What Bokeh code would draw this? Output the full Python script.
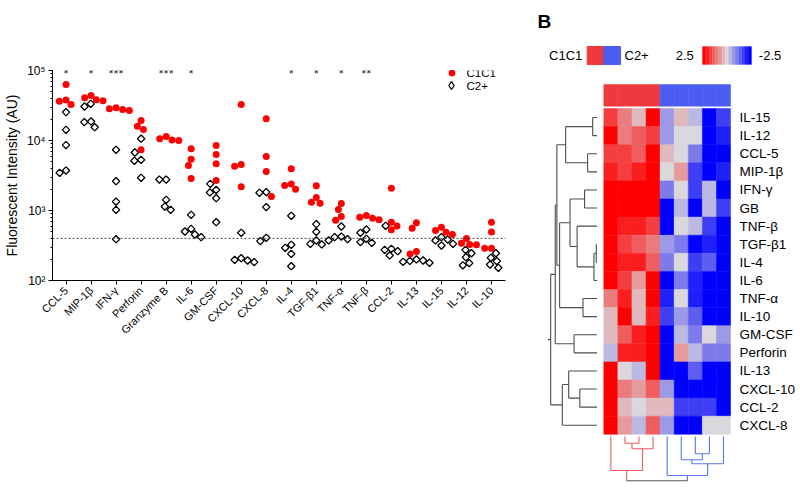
import numpy as np
from bokeh.plotting import figure
from bokeh.models import (Range1d, FixedTicker, Span, Legend, LegendItem, Label,
                          LinearColorMapper, ColumnDataSource)
from bokeh.transform import transform
from bokeh.layouts import row
from bokeh.embed import file_html
from bokeh.resources import INLINE
from bokeh.core.properties import value

FONT = "Liberation Sans"

# ---------------- Panel A data ----------------
cytokines = ["CCL-5", "MIP-1β", "IFN-γ", "Perforin", "Granzyme B", "IL-6", "GM-CSF",
             "CXCL-10", "CXCL-8", "IL-4", "TGF-β1", "TNF-α", "TNF-β", "CCL-2",
             "IL-13", "IL-15", "IL-12", "IL-10"]
c1c1 = [
    [63000, 38000, 36500, 32700],
    [44000, 40700, 38100, 36900],
    [29300, 28300, 27700, 26800],
    [19300, 16000, 14400, 7360],
    [11400, 10600, 10200, 10000],
    [7600, 5400, 4400, 2870],
    [8490, 6310, 4640, 2680],
    [32700, 4540, 4300, 2180],
    [20400, 5910, 3610, 1585],
    [3940, 2400, 2270, 2020],
    [2250, 1530, 1310, 1270],
    [1260, 1030, 821, 728],
    [849, 804, 777, 736],
    [2080, 680, 600, 530],
    [667, 560, 259, 240],
    [578, 518, 490, 454],
    [398, 341, 327, 323],
    [681, 495, 290, 290],
]
c2plus = [
    [25400, 14200, 8600, 3720, 3450],
    [33400, 30600, 18700, 18300, 15500],
    [7360, 2620, 1340, 1020, 389],
    [10600, 6740, 5290, 5130, 2930],
    [2770, 2770, 1420, 1140, 1020],
    [867, 547, 501, 454, 416],
    [2400, 1970, 1810, 1500, 681],
    [480, 208, 197, 193, 183],
    [1830, 1790, 1117, 407, 365],
    [840, 324, 293, 240, 160],
    [638, 495, 373, 334, 327],
    [591, 425, 416, 390, 373],
    [535, 480, 394, 353, 345],
    [604, 283, 274, 262, 228],
    [200, 193, 190, 185, 179],
    [416, 385, 373, 334, 316],
    [274, 245, 215, 177, 165],
    [245, 211, 189, 169, 152],
]
significance = ["*", "*", "***", "", "***", "*", "", "", "", "*", "*", "*", "**",
                "", "", "", "", ""]
threshold = 400
y_ticks = [100, 1000, 10000, 100000]
y_tick_labels = ["10²", "10³", "10⁴", "10⁵"]
group_names = ["C1C1", "C2+"]

# ---------------- Panel B data ----------------
hm_rows = ["IL-15", "IL-12", "CCL-5", "MIP-1β", "IFN-γ", "GB", "TNF-β", "TGF-β1", "IL-4",
           "IL-6", "TNF-α", "IL-10", "GM-CSF", "Perforin", "IL-13", "CXCL-10", "CCL-2", "CXCL-8"]
hm_groups = ["C1C1"] * 4 + ["C2+"] * 5
hm_values = [
    [1.5, 1.0, 0.2, 2.5, -0.8, 0.4, -0.3, -2.5, -1.8],
    [2.5, 1.0, 1.3, 1.8, -0.8, 0.0, -0.1, -2.3, -2.0],
    [1.5, 1.6, 1.2, 2.5, 0.4, -0.1, -0.9, -2.3, -2.5],
    [2.0, 1.7, 2.0, 2.5, 0.1, 0.6, -1.8, -2.4, -2.0],
    [2.5, 2.5, 2.5, 2.5, -1.0, -0.1, -1.6, -0.4, -2.5],
    [2.3, 2.3, 2.3, 2.5, -2.5, -0.4, -2.5, -0.3, -1.8],
    [2.5, 2.1, 2.1, 1.8, -2.5, -0.1, -0.5, -1.8, -2.5],
    [2.5, 1.8, 1.3, 1.0, -0.8, -0.9, -2.5, -2.0, -2.4],
    [2.5, 1.9, 1.9, 1.4, -1.0, -0.1, -1.8, -1.3, -2.4],
    [2.5, 1.8, 0.5, 2.2, -2.2, -0.9, -2.0, -2.3, -2.4],
    [1.0, 2.0, 0.4, 2.5, -2.0, 0.0, -2.0, -2.4, -2.3],
    [0.2, 2.5, 0.2, 2.0, -1.7, -0.6, -1.2, -2.4, -2.4],
    [0.2, 1.4, 2.1, 2.5, -2.5, -0.4, -1.0, 0.0, -0.6],
    [-0.3, 2.0, 2.1, 2.5, -2.5, 0.8, -0.4, -1.1, -1.1],
    [2.5, 0.1, -0.4, 2.3, -2.4, -2.4, -1.5, -2.5, -2.4],
    [2.5, 1.1, 0.5, 1.2, -0.8, -2.3, -2.3, -2.4, -2.4],
    [2.5, 0.4, 0.1, 0.4, 0.2, -1.6, -1.6, -1.8, -2.5],
    [2.5, 0.5, -0.3, 1.3, -0.8, -2.5, -2.5, 0.0, 0.0],
]
scale_low, scale_high = -2.5, 2.5
# hierarchical clustering merges: (node a, node b, height); new nodes numbered from n
row_merges = [
    (0, 1, 0.091), (2, 3, 0.198), (18, 19, 0.660), (4, 5, 0.262),
    (7, 8, 0.015), (22, 9, 0.064), (6, 23, 0.419), (21, 24, 0.568),
    (10, 11, 0.295), (25, 26, 0.787), (20, 27, 0.845), (12, 13, 0.483),
    (28, 29, 0.879), (15, 16, 0.362), (14, 31, 0.596), (32, 17, 0.730),
    (30, 33, 0.975),
]
col_merges = [
    (1, 2, 0.15), (9, 3, 0.275), (0, 10, 0.76),
    (6, 7, 0.387), (5, 12, 0.521), (13, 8, 0.611), (4, 14, 0.872),
    (11, 15, 0.99),
]

# ---------------- styles / layout ----------------
RED = "#FF0000"
GROUP_COL = {"C1C1": "#F0393E", "C2+": "#4B5DF0"}
DEND_COL = {"C1C1": "#EE5A66", "C2+": "#5577E6", "mix": "#555555"}

WA, WB, H = 535, 265, 486
FW, FH = 455, 210
FL, FT = 50, 70
XL, XR = -0.54, 17.56

# ================= Panel A =================
pA = figure(width=WA, height=H, x_range=Range1d(XL, XR), y_range=Range1d(100, 1e5),
            y_axis_type="log", output_backend="svg", toolbar_location=None,
            min_border_left=FL, min_border_right=WA - FL - FW, min_border_top=FT,
            min_border_bottom=H - FT - FH)
pA.frame_align = False
pA.outline_line_color = None
pA.grid.visible = False

xa = pA.xaxis[0]
xa.ticker = FixedTicker(ticks=list(range(len(cytokines))))
xa.major_label_overrides = {i: c for i, c in enumerate(cytokines)}
xa.major_label_orientation = np.pi / 4
xa.major_label_text_font = FONT
xa.major_label_text_font_size = "11px"
xa.major_label_text_color = "black"
xa.major_tick_in = 0
xa.major_tick_out = 4
xa.minor_tick_line_color = None
xa.axis_line_color = "black"
xa.major_label_standoff = 4

ya = pA.yaxis[0]
ya.major_label_overrides = dict(zip(y_ticks, y_tick_labels))
ya.major_label_text_font = FONT
ya.major_label_text_font_size = "12px"
ya.major_label_text_color = "black"
ya.major_tick_in = 0
ya.major_tick_out = 4
ya.minor_tick_in = 0
ya.minor_tick_out = 2
ya.major_label_standoff = 3
ya.axis_label = "Fluorescent Intensity (AU)"
ya.axis_label_text_font = FONT
ya.axis_label_text_font_size = "14px"
ya.axis_label_text_font_style = "normal"
ya.axis_label_text_color = "black"
ya.axis_label_standoff = 4

pA.add_layout(Span(location=threshold, dimension="width", line_dash="2 2",
                   line_color="#444444", line_width=1))

# beeswarm offsets (computed from values in screen space)
px_per_cat = FW / (XR - XL)
px_per_dec = FH / 3.0


def swarm(vals, diam):
    placed, offs = [], []
    for v in vals:
        y = np.log10(v) * px_per_dec
        forb = []
        for px, py in placed:
            dyy = abs(py - y)
            if dyy < diam:
                w = np.sqrt(diam ** 2 - dyy ** 2)
                forb.append((px - w, px + w))
        cands = [0.0] + [e for iv in forb for e in iv]
        cands.sort(key=lambda c: (abs(c), c))
        chosen = 0.0
        for c in cands:
            if all(not (lo + 1e-6 < c < hi - 1e-6) for lo, hi in forb):
                chosen = c
                break
        placed.append((chosen, y))
        offs.append(chosen)
    return offs


rx, ry, dx, dy = [], [], [], []
for i in range(len(cytokines)):
    pts = [(v, "r") for v in c1c1[i]] + [(v, "d") for v in c2plus[i]]
    pts.sort(key=lambda t: -t[0])
    offs = swarm([v for v, _ in pts], 6.8)
    for (v, g), o in zip(pts, offs):
        if g == "r":
            rx.append(i + o / px_per_cat); ry.append(v)
        else:
            dx.append(i + o / px_per_cat); dy.append(v)

r_d = pA.scatter(dx, dy, marker="square", size=5.2, angle=np.pi / 4, fill_color=None,
                 line_color="black", line_width=1.3)
r_r = pA.scatter(rx, ry, marker="circle", size=7, fill_color=RED, line_color=None)
# legend-only glyph: zero-size diamond on an existing point (invisible in the plot)
r_dl = pA.scatter(dx[:1], dy[:1], marker="diamond", size=0, fill_color=None,
                  line_color="black", line_width=1.3)

for i, s in enumerate(significance):
    if s:
        pA.add_layout(Label(x=i, y=1e5, text=s, text_align="center", text_baseline="middle",
                            y_offset=-3, text_font=FONT, text_font_size="13px",
                            text_color="#222222"))

# legend: glyphs via Legend, texts via Labels
for lbl, rend, ly, gs in ((group_names[0], r_r, 199.5, 17), (group_names[1], r_dl, 185.0, 20)):
    pA.add_layout(Legend(items=[LegendItem(label=" ", renderers=[rend])],
                         location=(399 - gs / 2, ly), glyph_width=gs, glyph_height=gs,
                         label_height=gs, label_standoff=0, label_width=0, padding=0,
                         spacing=0, margin=0, border_line_color=None,
                         background_fill_alpha=0, label_text_font_size="1px"))
    pA.add_layout(Label(x=414, y=ly + gs / 2, x_units="screen", y_units="screen", text=lbl,
                        text_baseline="middle", text_font=FONT, text_font_size="11.5px",
                        text_color="black"))

pA.add_layout(Label(x=-45, y=258.5, x_units="screen", y_units="screen", text="A",
                    text_font=FONT, text_font_size="19px", text_font_style="bold",
                    text_baseline="alphabetic"))

# ================= Panel B =================
CW, RH = 14.08, 18.1          # px per column / row
C0X, R0Y = 610.34, 117.05      # screen position of first cell centre
BX0 = WA
pB = figure(width=WB, height=H,
            x_range=Range1d((BX0 - C0X) / CW, (BX0 + WB - C0X) / CW),
            y_range=Range1d((H - R0Y) / RH, (0 - R0Y) / RH),
            output_backend="svg", toolbar_location=None, min_border=0,
            x_axis_location=None, y_axis_location=None)
pB.frame_align = False
pB.grid.visible = False
pB.outline_line_color = None


def hexc(c):
    return tuple(int(c[i:i + 2], 16) for i in (1, 3, 5))


def interp(c1, c2, t):
    a, b = hexc(c1), hexc(c2)
    return "#%02x%02x%02x" % tuple(int(round(a[k] + (b[k] - a[k]) * t)) for k in range(3))


NB = 15
anchors = ["#0000FF", "#DAD8DC", "#FF0000"]
palette = []
for k in range(NB):
    t = k / (NB - 1)
    palette.append(interp(anchors[0], anchors[1], t * 2) if t <= 0.5
                   else interp(anchors[1], anchors[2], (t - 0.5) * 2))
mapper = LinearColorMapper(palette=palette, low=scale_low, high=scale_high)

nr, nc = len(hm_rows), len(hm_groups)
hx, hy, hv = [], [], []
for r in range(nr):
    for c in range(nc):
        hx.append(c); hy.append(r); hv.append(hm_values[r][c])
src = ColumnDataSource(dict(x=hx, y=hy, v=hv))
pB.rect("x", "y", 1, 1, source=src, fill_color=transform("v", mapper),
        line_color=transform("v", mapper), line_width=0.5)

# column annotation bar
pB.quad(left=[c - 0.5 for c in range(nc)], right=[c + 0.5 for c in range(nc)],
        top=-1.82, bottom=-0.63, fill_color=[GROUP_COL[g] for g in hm_groups],
        line_color=[GROUP_COL[g] for g in hm_groups], line_width=0.5)

# row labels
pB.text(x=[nc - 0.5 + 0.63] * nr, y=list(range(nr)), text=hm_rows, text_baseline="middle",
        text_align="left", text_font=value(FONT), text_font_size="13.5px", text_color="black")

# group legend
gl = group_names
pB.quad(left=[-1.68, -0.5], right=[-0.5, 0.69], top=-3.925, bottom=-2.93,
        fill_color=[GROUP_COL[g] for g in gl], line_color=[GROUP_COL[g] for g in gl])
pB.text(x=[-2.03], y=[-3.43], text=[gl[0]], text_align="right", text_baseline="middle",
        text_font=value(FONT), text_font_size="13px")
pB.text(x=[0.97], y=[-3.43], text=[gl[1]], text_align="left", text_baseline="middle",
        text_font=value(FONT), text_font_size="13px")

# colour key
kv = list(np.linspace(scale_high, scale_low, NB))
kx0, kx1 = 6.51, 9.99
kw = (kx1 - kx0) / NB
key_src = ColumnDataSource(dict(l=[kx0 + k * kw for k in range(NB)],
                                r=[kx0 + (k + 1) * kw for k in range(NB)], v=kv))
pB.quad(left="l", right="r", top=-3.925, bottom=-2.93, fill_color=transform("v", mapper),
        line_color=transform("v", mapper), line_width=0.3, source=key_src)
pB.text(x=[5.89], y=[-3.43], text=["%g" % scale_high], text_align="right",
        text_baseline="middle", text_font=value(FONT), text_font_size="13px")
pB.text(x=[10.51], y=[-3.43], text=["%g" % scale_low], text_align="left",
        text_baseline="middle", text_font=value(FONT), text_font_size="13px")

pB.text(x=[(537 - C0X) / CW], y=[(20.5 - R0Y) / RH], text=["B"], text_font=value(FONT),
        text_font_size="19px", text_font_style="bold", text_baseline="alphabetic")


def dendro(merges, n, groups=None):
    pos = [float(i) for i in range(n)]
    ht = [0.0] * n
    grp = list(groups) if groups else ["mix"] * n
    segs = []
    for a, b, d in merges:
        segs.append((pos[a], ht[a], pos[a], d, grp[a]))
        segs.append((pos[b], ht[b], pos[b], d, grp[b]))
        g = grp[a] if grp[a] == grp[b] else "mix"
        segs.append((pos[a], d, pos[b], d, g))
        pos.append((pos[a] + pos[b]) / 2); ht.append(d); grp.append(g)
    return segs, pos, ht


# row dendrogram (left)
LEAF_X = (596.5 - C0X) / CW
RSC = 47.5 / CW
segs, pos, ht = dendro(row_merges, nr)
segs.append((pos[-1], ht[-1], pos[-1], ht[-1] + 0.06, "mix"))
pB.segment(x0=[LEAF_X - s[1] * RSC for s in segs], y0=[s[0] for s in segs],
           x1=[LEAF_X - s[3] * RSC for s in segs], y1=[s[2] for s in segs],
           line_color="#4D4D4D", line_width=1.1)

# column dendrogram (bottom)
LEAF_Y = (436 - R0Y) / RH
CSC = 44.7 / RH
segs, pos, ht = dendro(col_merges, nc, hm_groups)
pB.segment(x0=[s[0] for s in segs], y0=[LEAF_Y + s[1] * CSC for s in segs],
           x1=[s[2] for s in segs], y1=[LEAF_Y + s[3] * CSC for s in segs],
           line_color=[DEND_COL[s[4]] for s in segs], line_width=1.1)

layout = row(pA, pB)
open("out.html", "w").write(file_html(layout, INLINE))
